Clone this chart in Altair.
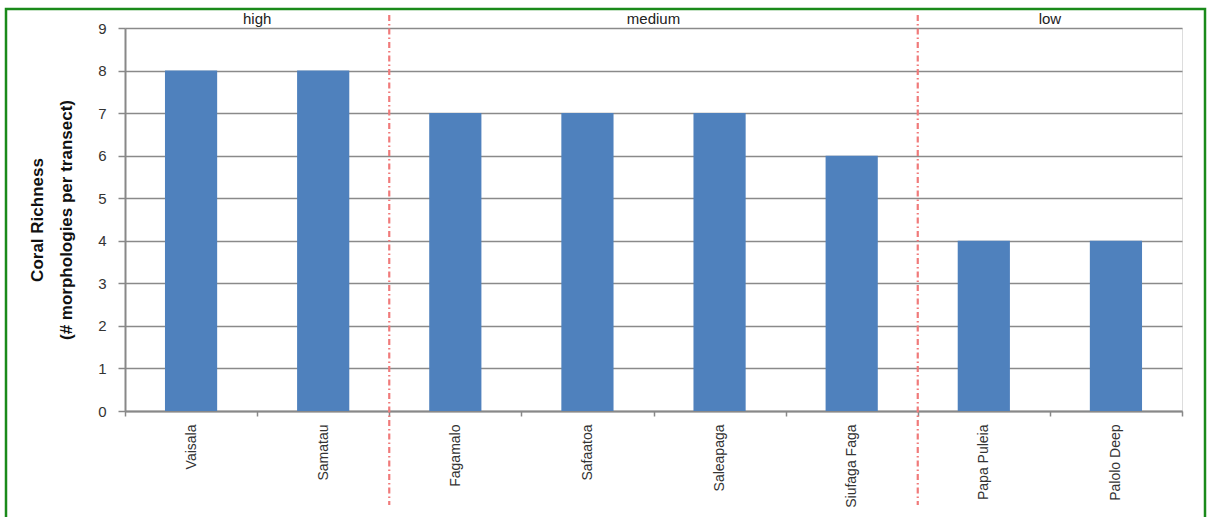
import altair as alt
import pandas as pd

sites = ["Vaisala", "Samatau", "Fagamalo", "Safaatoa", "Saleapaga",
         "Siufaga Faga", "Papa Puleia", "Palolo Deep"]
richness = [8, 8, 7, 7, 7, 6, 4, 4]

divider_sites = ["Fagamalo", "Papa Puleia"]          # group boundaries (left edge of band)
group_labels = ["high", "medium", "low"]
group_anchor = ["Samatau", "Saleapaga", "Palolo Deep"]  # label centred on left edge of these bands

bars_df = pd.DataFrame({"site": sites, "richness": richness})
div_df = pd.DataFrame({"site": divider_sites})
grp_df = pd.DataFrame({"site": group_anchor, "label": group_labels})
frame_df = pd.DataFrame({"k": [0]})

FONT = "Liberation Sans"
xscale = alt.Scale(domain=sites, paddingInner=0, paddingOuter=0)

bars = alt.Chart(bars_df).mark_bar(
    color="#4F81BD", width=alt.RelativeBandSize(0.395)
).encode(
    x=alt.X("site:N", scale=xscale, title=None,
            axis=alt.Axis(labelAngle=-90, tickBand="extent", labelFontSize=14,
                          labelColor="#333333", labelFont=FONT, labelPadding=8,
                          tickSize=5, tickColor="#888888", tickWidth=1.5,
                          domainColor="#888888", domainWidth=2, grid=False)),
    y=alt.Y("richness:Q", scale=alt.Scale(domain=[0, 9], nice=False),
            title=["Coral Richness", "(# morphologies per transect)"],
            axis=alt.Axis(values=list(range(10)), labelFontSize=15, labelColor="#333333",
                          labelFont=FONT, labelPadding=12, tickSize=7,
                          tickColor="#888888", tickWidth=1.5, domainColor="#888888",
                          domainWidth=2, grid=True, gridColor="#8a8a8a", gridWidth=1.5,
                          titleFont=FONT, titleFontSize=17, titleFontWeight="bold",
                          titleColor="#111111", titlePadding=22, titleLineHeight=29)),
)

dividers = alt.Chart(div_df).mark_rule(
    color="#f07a7a", strokeWidth=2.2, strokeDash=[6, 3, 1.5, 3]
).encode(
    x=alt.X("site:N", scale=xscale, bandPosition=0),
    y=alt.value(-13),
    y2=alt.value(477),
)

group_text = alt.Chart(grp_df).mark_text(
    fontSize=15, font=FONT, color="#222222", baseline="middle", align="center"
).encode(
    x=alt.X("site:N", scale=xscale, bandPosition=0),
    y=alt.value(-9),
    text="label:N",
)

frame = alt.Chart(frame_df).mark_rect(
    filled=False, stroke="#1a8a1a", strokeWidth=2.5
).encode(
    x=alt.value(-119), x2=alt.value(1080), y=alt.value(-19), y2=alt.value(520)
)

chart = alt.layer(bars, dividers, group_text, frame).properties(
    width=1057, height=383,
    autosize=alt.AutoSizeParams(type="none"),
    padding={"left": 125, "top": 28, "right": 25, "bottom": 106},
).configure_view(stroke=None).configure(background="white")

chart.save("out.html", embed_options={"renderer": "svg", "actions": False})
